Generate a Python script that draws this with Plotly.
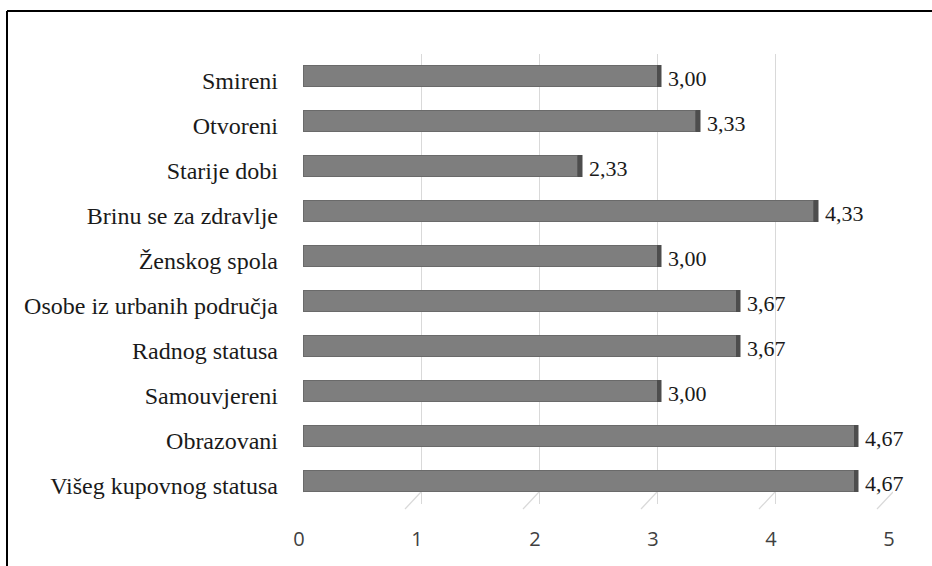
import plotly.graph_objects as go

# Osobine ispitanika i prosječne ocjene (od vrha prema dnu)
kategorije = [
    "Smireni",
    "Otvoreni",
    "Starije dobi",
    "Brinu se za zdravlje",
    "Ženskog spola",
    "Osobe iz urbanih područja",
    "Radnog statusa",
    "Samouvjereni",
    "Obrazovani",
    "Višeg kupovnog statusa",
]
vrijednosti = [3.00, 3.33, 2.33, 4.33, 3.00, 3.67, 3.67, 3.00, 4.67, 4.67]
x_oznake = [0, 1, 2, 3, 4, 5]

W, H = 932, 566
SERIF = "Liberation Serif"


def px_x(p):
    return p / W


def px_y(p):
    return 1 - p / H


# pixel geometry of the plot
x_front0, x_front5 = 303, 893      # front edge of bars (0 .. 5)
x_back0, x_back5 = 313, 903        # back wall gridlines
y_top_cat, y_bot_cat = 53.5, 503.5  # category band
y_grid_top, y_grid_bot = 48, 492

cap = 0.035  # thin dark end face of each bar

fig = go.Figure()

fig.add_trace(go.Bar(
    y=kategorije, x=vrijednosti, orientation="h",
    marker=dict(color="#7e7e7e", line=dict(color="#6a6a6a", width=1)),
    xaxis="x", yaxis="y", hoverinfo="skip", showlegend=False,
))
fig.add_trace(go.Bar(
    y=kategorije, x=[cap] * len(vrijednosti), orientation="h",
    marker=dict(color="#4d4d4d", line=dict(color="#4d4d4d", width=0.5)),
    xaxis="x", yaxis="y", hoverinfo="skip", showlegend=False,
))

# invisible trace so the back-wall grid axes get drawn
fig.add_trace(go.Scatter(
    x=[0, 5], y=[0, 1], mode="markers", marker=dict(opacity=0),
    xaxis="x2", yaxis="y2", hoverinfo="skip", showlegend=False,
))

# value labels, comma as decimal separator
for kat, v in zip(kategorije, vrijednosti):
    fig.add_annotation(
        x=v + cap, y=kat, xref="x", yref="y",
        text=f"{v:.2f}".replace(".", ","),
        showarrow=False, xanchor="left", yanchor="middle",
        xshift=5, yshift=-2,
        font=dict(family=SERIF, size=22, color="#1a1a1a"),
    )

shapes = []
# floor lines running from the back wall to the front
for t in x_oznake:
    shapes.append(dict(
        type="line", xref="x2", yref="paper",
        xsizemode="pixel", xanchor=t,
        ysizemode="pixel", yanchor=px_y(y_grid_bot),
        x0=0, x1=-16, y0=0, y1=-17,
        line=dict(color="#d9d9d9", width=1.2), layer="below",
    ))
# outer chart frame (left and top edges)
shapes.append(dict(
    type="line", xref="paper", yref="paper",
    x0=px_x(7), x1=px_x(7), y0=0, y1=px_y(11),
    line=dict(color="#000000", width=2),
))
shapes.append(dict(
    type="line", xref="paper", yref="paper",
    x0=px_x(7), x1=1, y0=px_y(11), y1=px_y(11),
    line=dict(color="#000000", width=2),
))

fig.update_layout(
    width=W, height=H,
    margin=dict(l=0, r=0, t=0, b=0, autoexpand=False),
    paper_bgcolor="white", plot_bgcolor="rgba(0,0,0,0)",
    barmode="stack", bargap=0.53,
    shapes=shapes,
    xaxis=dict(
        domain=[px_x(x_front0), px_x(x_front5)],
        range=[0, 5], anchor="y", automargin=False,
        showgrid=False, zeroline=False, showline=False,
        tickvals=x_oznake, ticktext=[str(t) for t in x_oznake],
        ticks="", ticklabelstandoff=21, ticklabelshift=-4,
        tickfont=dict(family="Open Sans", size=20, color="#404040"),
    ),
    yaxis=dict(
        domain=[px_y(y_bot_cat), px_y(y_top_cat)],
        range=[len(kategorije) - 0.5, -0.5], type="category",
        anchor="x", automargin=False,
        showgrid=False, zeroline=False, showline=False,
        ticks="", ticklabelstandoff=24, ticklabelshift=-5,
        tickfont=dict(family=SERIF, size=24, color="#1a1a1a"),
    ),
    xaxis2=dict(
        domain=[px_x(x_back0), px_x(x_back5)],
        range=[0, 5], anchor="y2", overlaying="x", automargin=False,
        tickvals=x_oznake, showticklabels=False,
        showgrid=True, gridcolor="#d9d9d9", gridwidth=1.2,
        zeroline=False, showline=False, ticks="",
    ),
    yaxis2=dict(
        domain=[px_y(y_grid_bot), px_y(y_grid_top)],
        range=[0, 1], anchor="x2", overlaying="y", automargin=False,
        showgrid=False, zeroline=False, showline=False,
        showticklabels=False, ticks="",
    ),
)

fig.write_html("out.html")
